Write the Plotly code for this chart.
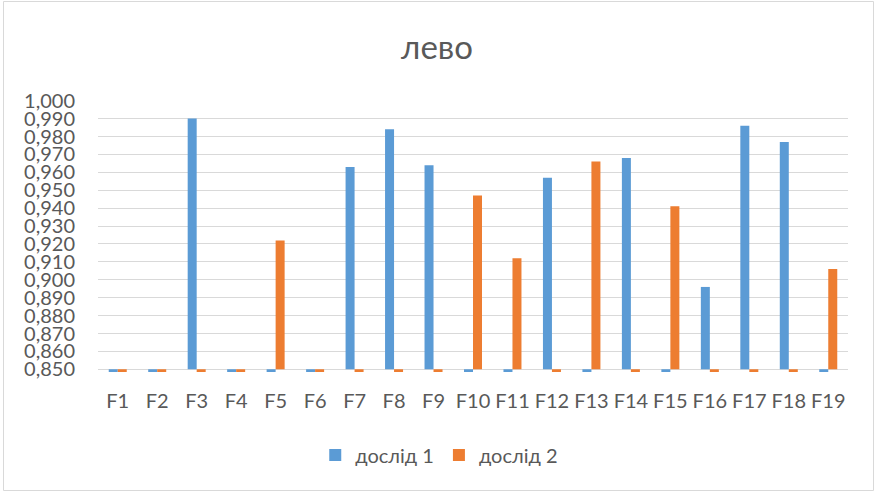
import numpy as np
import plotly.graph_objects as go

# Categories and measured values (0 = no measurement in that run)
categories = [f"F{i}" for i in range(1, 20)]
series_1_name = "дослід 1"
series_2_name = "дослід 2"
series_1 = [0, 0, 0.990, 0, 0, 0, 0.963, 0.984, 0.964, 0, 0, 0.957, 0, 0.968, 0, 0.896, 0.986, 0.977, 0]
series_2 = [0, 0, 0, 0, 0.922, 0, 0, 0, 0, 0.947, 0.912, 0, 0.966, 0, 0.941, 0, 0, 0, 0.906]
y_ticks = [round(0.85 + 0.01 * i, 3) for i in range(16)]

AXIS_MIN = 0.85
TEXT = "#595959"
GRID = "#D9D9D9"
FONT = "Lato, Open Sans, sans-serif"

fig = go.Figure()
for name, vals, color in [(series_1_name, series_1, "#5B9BD5"),
                          (series_2_name, series_2, "#ED7D31")]:
    v = np.array(vals, dtype=float)
    # bars grow from the axis minimum, like a value axis that crosses at 0,850
    fig.add_trace(go.Bar(
        x=categories, y=v - AXIS_MIN, base=AXIS_MIN, name=name,
        marker=dict(color=color, line=dict(width=0)),
        customdata=v, hovertemplate="%{x}: %{customdata:.3f}<extra>" + name + "</extra>",
    ))

fig.update_layout(
    width=874, height=492,
    margin=dict(l=98, r=26, t=100, b=120),
    paper_bgcolor="white", plot_bgcolor="white",
    separators=", ",
    font=dict(family=FONT, color=TEXT, size=19),
    title=dict(text="лево", x=0.5, xref="container", xanchor="center",
               y=1 - 47 / 492, yanchor="middle",
               font=dict(size=33, color=TEXT, family=FONT)),
    barmode="group", bargap=0.544, bargroupgap=0,
    showlegend=True,
    legend=dict(orientation="h", x=0.455, xanchor="center", y=-0.305, yanchor="middle",
                font=dict(size=20, color=TEXT, family=FONT), itemwidth=30,
                traceorder="normal"),
    shapes=[dict(type="rect", xref="paper", yref="paper",
                 x0=(3.5 - 98) / 750, x1=(873.5 - 98) / 750,
                 y0=1 - (490.5 - 100) / 272, y1=1 + (100 - 1.5) / 272,
                 line=dict(color=GRID, width=1), fillcolor="rgba(0,0,0,0)", layer="below")],
)
fig.update_xaxes(showgrid=False, showline=False, ticks="", ticklabelstandoff=15,
                 tickfont=dict(size=20, color=TEXT, family=FONT))
fig.update_yaxes(range=[0.8485, 1.0004], tickvals=y_ticks, tickformat=".3f",
                 showgrid=True, gridcolor=GRID, gridwidth=1.3, zeroline=False,
                 showline=False, ticks="", ticklabelstandoff=22,
                 tickfont=dict(size=20, color=TEXT, family=FONT))

fig.write_html("out.html")
